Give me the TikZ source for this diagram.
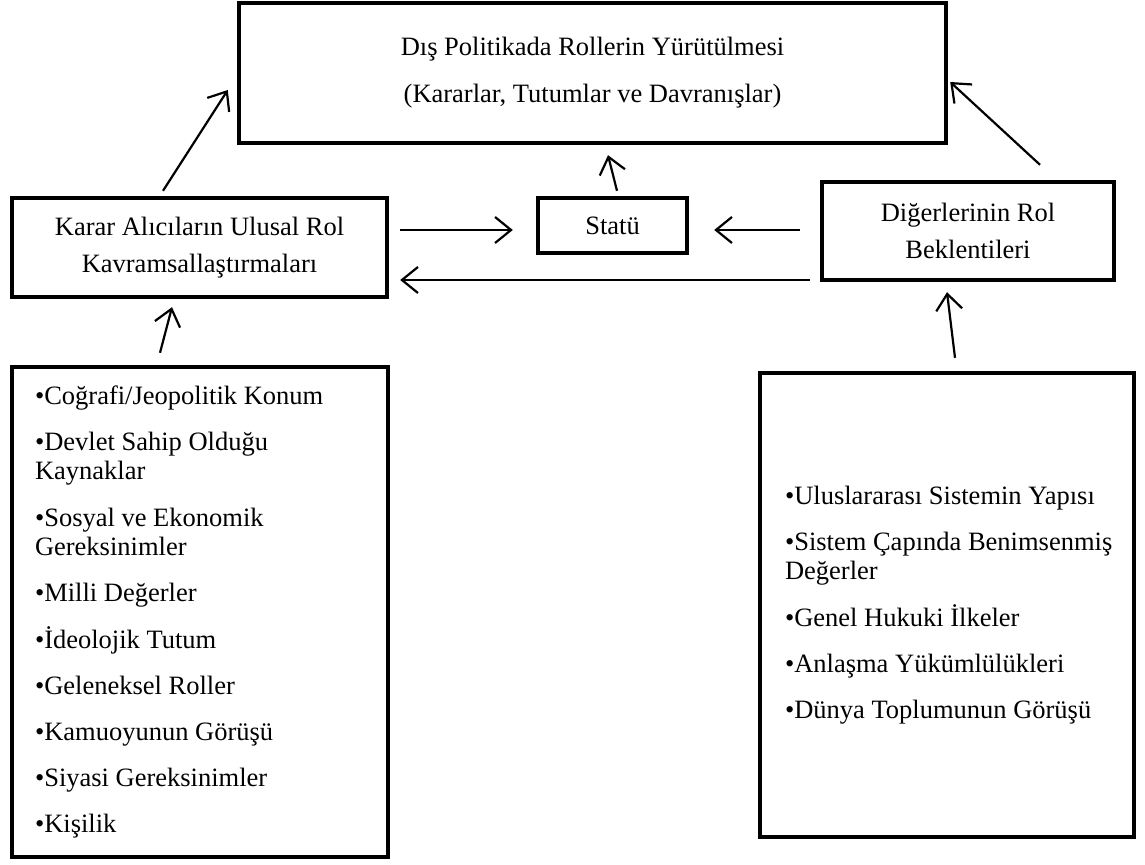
\documentclass[tikz,border=0pt]{standalone}
\usepackage{fontspec}
\setmainfont{Liberation Serif}
\usetikzlibrary{arrows.meta}

\begin{document}
\begin{tikzpicture}
[x=0.5pt,y=-0.5pt,%
  boxdecorate/.style={shape=rectangle,draw,line width=2.2pt,align=center,%
    font=\fontsize{13.25}{18.5}\selectfont,inner sep=0pt},%
  listdecorate/.style={shape=rectangle,draw,line width=2.2pt,align=flush left,%
    font=\fontsize{13.25}{14.8}\selectfont,inner ysep=0pt},%
  arrowdecorate/.style={-{Straight Barb[length=8pt,width=13pt]},line width=1.1pt}]
\useasboundingbox (0,0) rectangle (1145,865);
%% boxes
\node (goal) at (592.5,73) [boxdecorate,minimum width=353.5pt,minimum height=70pt,%
  font=\fontsize{13.25}{23.5}\selectfont]
  {Dış Politikada Rollerin Yürütülmesi\\(Kararlar, Tutumlar ve Davranışlar)};
\node (karar) at (199.5,247.5) [boxdecorate,minimum width=187.5pt,minimum height=49.5pt]
  {Karar Alıcıların Ulusal Rol\\Kavramsallaştırmaları};
\node (statu) at (612.5,225.5) [boxdecorate,minimum width=74.5pt,minimum height=27.5pt]
  {Statü};
\node (diger) at (968,231) [boxdecorate,minimum width=146pt,minimum height=49pt]
  {Diğerlerinin Rol\\Beklentileri};
\node (iclist) at (200,612) [listdecorate,inner xsep=11.5pt,text width=165pt,minimum height=245pt]
  {•Coğrafi/Jeopolitik Konum\\[8.3pt]
   •Devlet Sahip Olduğu\\Kaynaklar\\[8.3pt]
   •Sosyal ve Ekonomik\\Gereksinimler\\[8.3pt]
   •Milli Değerler\\[8.3pt]
   •İdeolojik Tutum\\[8.3pt]
   •Geleneksel Roller\\[8.3pt]
   •Kamuoyunun Görüşü\\[8.3pt]
   •Siyasi Gereksinimler\\[8.3pt]
   •Kişilik};
\node (exlist) at (947,605) [listdecorate,inner xsep=12.5pt,text width=162pt,minimum height=232pt]
  {•Uluslararası Sistemin Yapısı\\[8.3pt]
   \mbox{•Sistem Çapında Benimsenmiş}\\Değerler\\[8.3pt]
   •Genel Hukuki İlkeler\\[8.3pt]
   •Anlaşma Yükümlülükleri\\[8.3pt]
   •Dünya Toplumunun Görüşü\par\vspace{10pt}};
%% arrows
\foreach \startnode/\sx/\sy/\endnode/\ex/\ey in {karar.north/-36.5/-5/goal.west/-9/17,
  statu.north/4.5/-5/goal.south/15.5/10, diger.north/72/-15/goal.east/2/9,
  karar.east/11/-17.5/statu.west/-23/4.5, diger.west/-20/-1/statu.east/25/4.5,
  diger.west/-10/49/karar.east/11/32.5, iclist.north/-40/-12/karar.south/-27.5/8,
  exlist.north/8/-13/diger.south/-21/10}
{
  \draw[arrowdecorate] ([shift={(\sx,\sy)}]\startnode) -- ([shift={(\ex,\ey)}]\endnode);
}
\end{tikzpicture}
\end{document}
